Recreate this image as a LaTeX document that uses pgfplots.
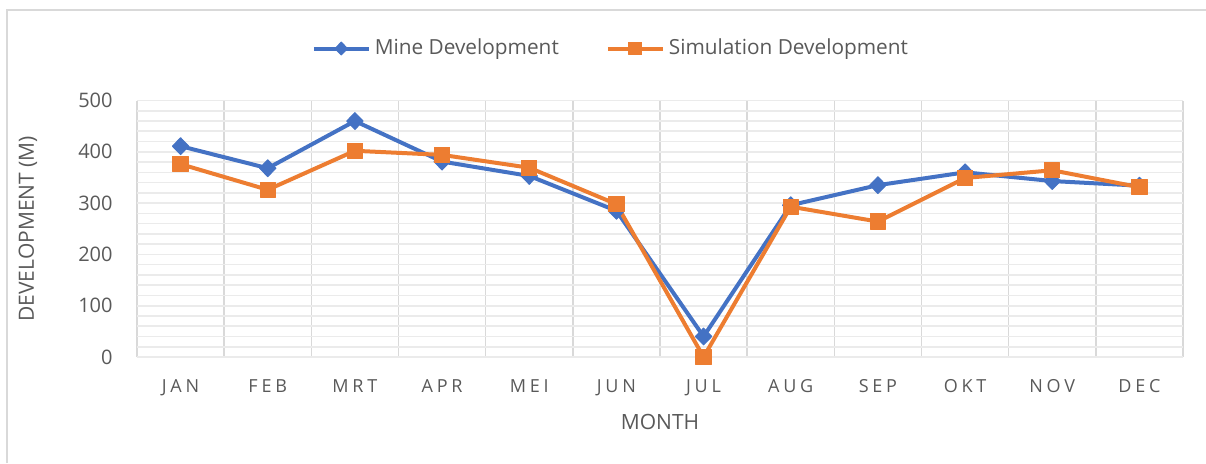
\documentclass[border=0pt]{standalone}
\usepackage{fontspec}
\setmainfont{Open Sans}
\usepackage{pgfplots}
\pgfplotsset{compat=1.18}
\definecolor{txt}{HTML}{595959}
\definecolor{mineblue}{HTML}{4472C4}
\definecolor{simorange}{HTML}{ED7D31}
\definecolor{vgrid}{HTML}{D9D9D9}
\definecolor{hgrid}{HTML}{EBEBEB}

\begin{document}
\begin{tikzpicture}
\useasboundingbox (0,0) rectangle (603pt,231.5pt);
% outer chart frame (cropped at right and bottom)
\draw[vgrid, line width=0.8pt] (3.5pt,0) -- (3.5pt,226.5pt) -- (603pt,226.5pt);
\begin{axis}[
  at={(68.5pt,53pt)}, anchor=south west,
  scale only axis, width=523pt, height=128.25pt,
  clip=false,
  xmin=-0.5, xmax=11.5, ymin=0, ymax=500,
  xtick={0,...,11},
  xticklabels={JAN,FEB,MRT,APR,MEI,JUN,JUL,AUG,SEP,OKT,NOV,DEC},
  minor xtick={-0.5,0.5,...,11.5},
  ytick={0,100,...,500},
  minor y tick num=4,
  /pgf/number format/assume math mode=true,
  xminorgrids, ymajorgrids, yminorgrids,
  minor x grid style={vgrid, line width=0.8pt},
  major y grid style={hgrid, line width=0.8pt},
  minor y grid style={hgrid, line width=0.8pt},
  extra y ticks={0}, extra y tick labels={},
  extra y tick style={grid=major, major grid style={vgrid, line width=0.8pt}},
  axis line style={draw=none},
  major tick length=0pt, minor tick length=0pt,
  tick style={draw=none},
  yticklabel style={font=\fontsize{10}{12}\selectfont, text=txt, inner sep=0pt, anchor=east, xshift=-12pt},
  xticklabel style={font=\fontsize{9}{11}\selectfont\addfontfeature{LetterSpace=21}, text=txt, inner sep=0pt, anchor=north, yshift=-11pt},
  xlabel={MONTH},
  xlabel style={font=\fontsize{10.5}{13}\selectfont, text=txt, at={(axis description cs:0.5,-0.252)}, anchor=center},
  ylabel={DEVELOPMENT (M)},
  ylabel style={font=\fontsize{10.5}{13}\selectfont, text=txt, at={(axis description cs:-0.1042,0.5)}, anchor=center},
  legend columns=2,
  legend style={at={(axis description cs:0.454,1.2027)}, anchor=center, draw=none, fill=none,
    font=\fontsize{10.4}{13}\selectfont, text=txt, inner sep=0pt,
    /tikz/every even column/.style={column sep=21.5pt}},
  legend image code/.code={\draw[mark repeat=2, mark phase=2, line width=2pt, mark size=3.2pt]
    plot coordinates {(0pt,0pt) (13.75pt,0pt) (27.5pt,0pt)};},
]
\addplot[mineblue, line width=2pt, line join=round, mark=diamond*, mark size=4.2pt,
  mark options={solid, fill=mineblue, line width=0.5pt, xscale=1.3}]
  coordinates {(0,411) (1,368) (2,460) (3,381) (4,353) (5,285) (6,40) (7,296) (8,335) (9,360) (10,343) (11,334)};
\addlegendentry{Mine Development}
\addplot[simorange, line width=2pt, line join=round, mark=square*, mark size=3.8pt,
  mark options={solid, fill=simorange, line width=0.5pt}]
  coordinates {(0,376) (1,326) (2,402) (3,394) (4,369) (5,298) (6,0) (7,293) (8,264) (9,349) (10,364) (11,331)};
\addlegendentry{Simulation Development}
\end{axis}
\end{tikzpicture}
\end{document}
